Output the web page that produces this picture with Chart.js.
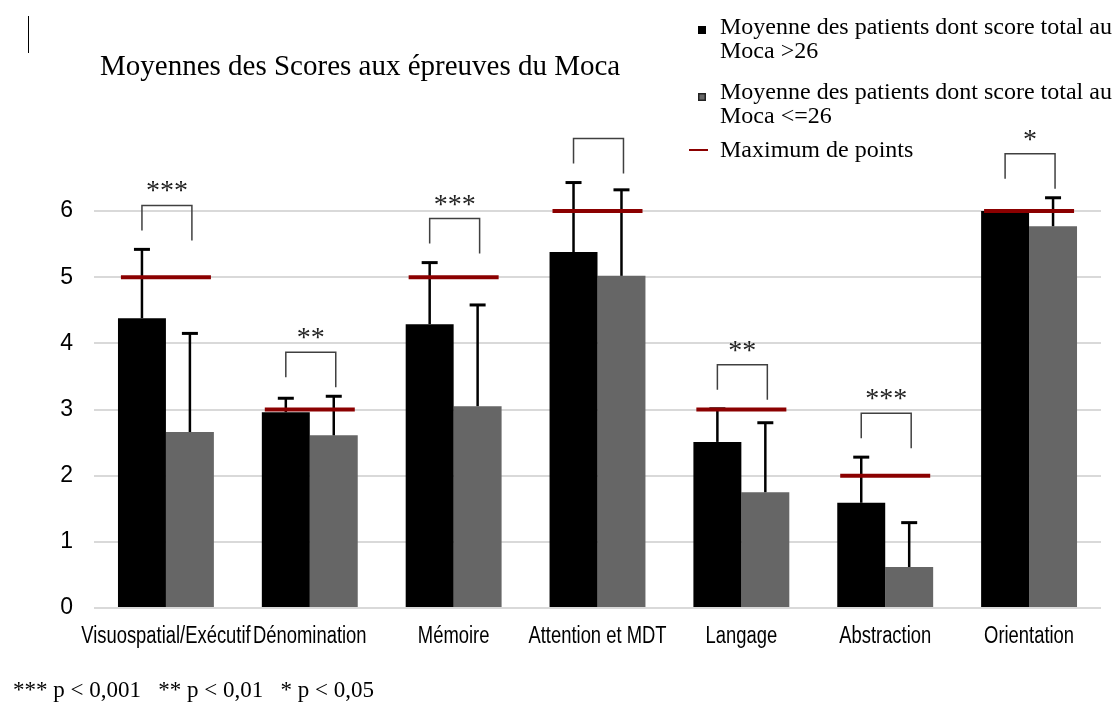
<!DOCTYPE html>
<html lang="fr">
<head>
<meta charset="utf-8">
<title>Moyennes des Scores aux épreuves du Moca</title>
<script src="https://cdn.jsdelivr.net/npm/chart.js@4.4.1/dist/chart.umd.min.js"></script>
<style>
  html, body { margin: 0; padding: 0; background: #fff; }
  #wrap { position: relative; width: 1114px; height: 704px; overflow: hidden; }
  #chart { position: absolute; left: 0; top: 0; }
  .serif { position: absolute; font-family: "Liberation Serif", "Times New Roman", serif; color: #000; white-space: nowrap; }
  #caret { position: absolute; left: 28px; top: 16px; width: 1px; height: 37px; background: #000; }
  #title { left: 100px; top: 51px; font-size: 29px; line-height: 29px; }
  #foot { left: 13px; top: 678px; font-size: 23px; line-height: 23px; white-space: pre; }
  .leg { left: 720px; font-size: 24px; line-height: 24px; }
  .box { position: absolute; left: 698px; width: 8px; height: 8px; }
  .dash { position: absolute; left: 689px; width: 19px; height: 2px; background: #8B0000; }
</style>
</head>
<body>
<div id="wrap">
  <canvas id="chart" width="1114" height="704"></canvas>
  <div id="caret"></div>
  <div id="title" class="serif">Moyennes des Scores aux épreuves du Moca</div>
  <div id="legend"></div>
  <div id="foot" class="serif">*** p &lt; 0,001   ** p &lt; 0,01   * p &lt; 0,05</div>
</div>
<script>
// ---- données ----
const categories = ['Visuospatial/Exécutif', 'Dénomination', 'Mémoire', 'Attention et MDT', 'Langage', 'Abstraction', 'Orientation'];
const moyenneSup26 = [4.38, 2.96, 4.29, 5.38, 2.51, 1.59, 6.0];
const moyenneInf26 = [2.66, 2.61, 3.05, 5.02, 1.75, 0.62, 5.77];
const ecartSup26 = [1.04, 0.21, 0.93, 1.05, 0.50, 0.69, 0];
const ecartInf26 = [1.49, 0.59, 1.53, 1.30, 1.05, 0.67, 0.43];
const maxPoints = [5, 3, 5, 6, 3, 2, 6];
const significativite = ['***', '**', '***', '', '**', '***', '*'];
const yTicks = [0, 1, 2, 3, 4, 5, 6];
const legendLabels = [
  ['Moyenne des patients dont score total au', 'Moca >26'],
  ['Moyenne des patients dont score total au', 'Moca <=26'],
  ['Maximum de points']
];

// ---- légende html ----
const legend = document.getElementById('legend');
const legTops = [14, 79, 137];
legendLabels.forEach((lines, i) => {
  const d = document.createElement('div');
  d.className = 'serif leg';
  d.style.top = legTops[i] + 'px';
  lines.forEach((l, k) => {
    if (k) d.appendChild(document.createElement('br'));
    d.appendChild(document.createTextNode(l));
  });
  legend.appendChild(d);
});
const b1 = document.createElement('div');
b1.className = 'box'; b1.style.top = '26px'; b1.style.background = '#000';
const b2 = document.createElement('div');
b2.className = 'box'; b2.style.top = '93px'; b2.style.background = '#666';
b2.style.boxShadow = 'inset 0 0 0 1.5px #222';
const b3 = document.createElement('div');
b3.className = 'dash'; b3.style.top = '149px';
legend.append(b1, b2, b3);

// ---- barres d'erreur (sous la ligne rouge) ----
const errorBars = {
  id: 'errorBars',
  beforeDatasetDraw(chart, args) {
    if (args.index !== 2) return;
    const y = chart.scales.y;
    const c = chart.ctx;
    c.save();
    c.strokeStyle = '#000';
    [ecartSup26, ecartInf26].forEach((sd, di) => {
      const meta = chart.getDatasetMeta(di);
      const vals = chart.data.datasets[di].data;
      meta.data.forEach((bar, i) => {
        if (!sd[i]) return;
        const top = y.getPixelForValue(vals[i] + sd[i]);
        c.lineWidth = 2.5;
        c.beginPath(); c.moveTo(bar.x, bar.y); c.lineTo(bar.x, top); c.stroke();
        c.lineWidth = 3;
        c.beginPath(); c.moveTo(bar.x - 8, top); c.lineTo(bar.x + 8, top); c.stroke();
      });
    });
    c.restore();
  }
};

// ---- crochets, étoiles et libellés compressés ----
const annotations = {
  id: 'annotations',
  afterDraw(chart) {
    const c = chart.ctx;
    const x = chart.scales.x;
    const y = chart.scales.y;
    const m0 = chart.getDatasetMeta(0).data;
    const m1 = chart.getDatasetMeta(1).data;
    c.save();
    categories.forEach((cat, i) => {
      const hi = Math.max(moyenneSup26[i] + ecartSup26[i], moyenneInf26[i] + ecartInf26[i], maxPoints[i]);
      const top = y.getPixelForValue(hi) - 44;
      const xl = m0[i].x, xr = m1[i].x + 2;
      c.strokeStyle = '#404040';
      c.lineWidth = 1.5;
      c.beginPath();
      c.moveTo(xl, top + 25);
      c.lineTo(xl, top);
      c.lineTo(xr, top);
      c.lineTo(xr, top + 35);
      c.stroke();
      if (significativite[i]) {
        c.fillStyle = '#222';
        c.font = '28px "Liberation Serif", "Times New Roman", serif';
        c.textAlign = 'center';
        c.textBaseline = 'alphabetic';
        c.fillText(significativite[i], (xl + xr) / 2, top - 20 + 14);
      }
      // libellés de l'axe x, resserrés comme dans l'original
      c.fillStyle = '#000';
      c.font = '23px "Liberation Sans", Arial, sans-serif';
      c.textAlign = 'center';
      c.textBaseline = 'middle';
      const w = c.measureText(cat).width;
      c.fillText(cat, x.getPixelForValue(i), chart.chartArea.bottom + 29, w * 0.8);
    });
    c.restore();
  }
};

new Chart(document.getElementById('chart'), {
  type: 'bar',
  data: {
    labels: categories,
    datasets: [
      {
        label: legendLabels[0].join(' '),
        data: moyenneSup26,
        backgroundColor: '#000000',
        categoryPercentage: 2 / 3,
        barPercentage: 1
      },
      {
        label: legendLabels[1].join(' '),
        data: moyenneInf26,
        backgroundColor: '#666666',
        categoryPercentage: 2 / 3,
        barPercentage: 1
      },
      {
        type: 'line',
        label: legendLabels[2][0],
        data: maxPoints,
        showLine: false,
        pointStyle: 'line',
        pointRadius: 45,
        pointHoverRadius: 45,
        pointBorderWidth: 4,
        pointBorderColor: '#8B0000',
        borderColor: '#8B0000',
        clip: false,
        order: -1
      }
    ]
  },
  options: {
    responsive: false,
    animation: false,
    layout: { autoPadding: false, padding: { top: 211, right: 13, left: 0, bottom: 0 } },
    plugins: {
      legend: { display: false },
      tooltip: { enabled: false }
    },
    scales: {
      x: {
        grid: { display: false },
        border: { display: false },
        ticks: { display: false },
        afterFit: (a) => { a.height = 96; }
      },
      y: {
        min: yTicks[0],
        max: yTicks[yTicks.length - 1],
        afterBuildTicks: (a) => { a.ticks = yTicks.map(v => ({ value: v })); },
        ticks: {
          padding: 21,
          color: '#000',
          font: { family: '"Liberation Sans", Arial, sans-serif', size: 23 }
        },
        grid: { color: '#d9d9d9', lineWidth: 2, drawTicks: false },
        border: { display: false },
        afterFit: (a) => { a.width = 94; }
      }
    }
  },
  plugins: [errorBars, annotations]
});
</script>
</body>
</html>
